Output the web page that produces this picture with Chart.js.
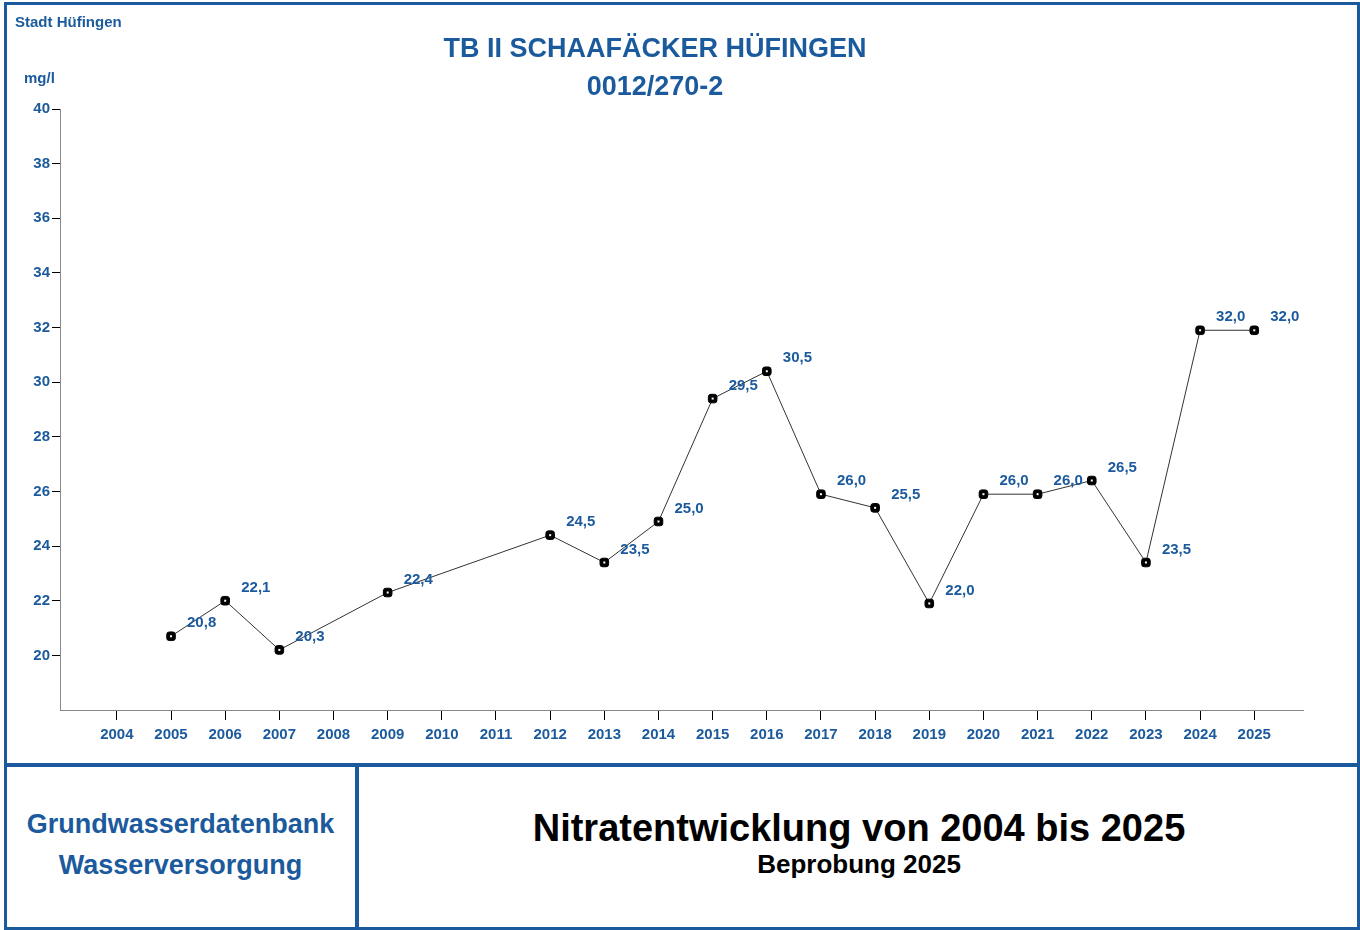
<!DOCTYPE html>
<html>
<head>
<meta charset="utf-8">
<script src="https://cdn.jsdelivr.net/npm/chart.js@4"></script>
<style>
  body { margin: 0; background: #fff; font-family: "Liberation Sans", Arial, sans-serif; }
  #page { position: relative; width: 1360px; height: 930px; }
  #frame { position: absolute; left: 4px; top: 2px; width: 1350px; height: 922px; border: 3px solid #1b5a9c; }
  #hline { position: absolute; left: 4px; top: 763px; width: 1356px; height: 4px; background: #1b5a9c; }
  #vline { position: absolute; left: 355px; top: 765px; width: 4px; height: 163px; background: #1b5a9c; }
  .blue { color: #1b5a9c; font-weight: bold; position: absolute; }
  #chartBox { position: absolute; left: 0; top: 0; width: 1360px; height: 765px; }
</style>
</head>
<body>
<div id="page">
  <div id="frame"></div>
  <div id="hline"></div>
  <div id="vline"></div>
  <div id="chartBox"><canvas id="nitrat"></canvas></div>
  <div class="blue" style="left:15px;top:13px;font-size:15px;">Stadt Hüfingen</div>
  <div class="blue" style="left:24px;top:69px;font-size:15px;">mg/l</div>
  <div class="blue" style="left:355px;width:600px;top:29px;font-size:27px;text-align:center;line-height:38px;">TB II SCHAAFÄCKER HÜFINGEN<br>0012/270-2</div>
  <div class="blue" style="left:4px;width:353px;top:804px;font-size:27px;text-align:center;line-height:41px;">Grundwasserdatenbank<br>Wasserversorgung</div>
  <div style="position:absolute;left:359px;width:1000px;top:806px;text-align:center;font-weight:bold;color:#000;">
    <div style="font-size:38px;line-height:44px;">Nitratentwicklung von 2004 bis 2025</div>
    <div style="font-size:26px;line-height:28px;">Beprobung 2025</div>
  </div>
</div>
<script>
// Messjahre und Nitratwerte (mg/l)
const years = [2005, 2006, 2007, 2009, 2012, 2013, 2014, 2015, 2016, 2017, 2018, 2019, 2020, 2021, 2022, 2023, 2024, 2025];
const values = [20.7, 22.0, 20.2, 22.3, 24.4, 23.4, 24.9, 29.4, 30.4, 25.9, 25.4, 21.9, 25.9, 25.9, 26.4, 23.4, 31.9, 31.9];
const labels = ['20,8', '22,1', '20,3', '22,4', '24,5', '23,5', '25,0', '29,5', '30,5', '26,0', '25,5', '22,0', '26,0', '26,0', '26,5', '23,5', '32,0', '32,0'];
const tickYears = [2004, 2005, 2006, 2007, 2008, 2009, 2010, 2011, 2012, 2013, 2014, 2015, 2016, 2017, 2018, 2019, 2020, 2021, 2022, 2023, 2024, 2025];

const blue = '#1b5a9c';

// Werte neben die Punkte schreiben
const valueLabels = {
  id: 'valueLabels',
  afterDatasetsDraw(chart) {
    const c = chart.ctx;
    const meta = chart.getDatasetMeta(0);
    c.save();
    c.font = 'bold 15px "Liberation Sans", Arial';
    c.fillStyle = blue;
    c.textAlign = 'left';
    c.textBaseline = 'middle';
    meta.data.forEach((pt, i) => {
      c.fillText(labels[i], pt.x + 16, pt.y - 13);
    });
    c.restore();
  }
};

// Punkte: schwarzes Quadrat mit weißem Punkt
const whiteDot = {
  id: 'whiteDot',
  afterDatasetsDraw(chart) {
    const c = chart.ctx;
    c.save();
    c.fillStyle = '#fff';
    chart.getDatasetMeta(0).data.forEach(pt => {
      c.fillRect(pt.x - 1, pt.y - 1, 2, 2);
    });
    c.restore();
  }
};

new Chart(document.getElementById('nitrat'), {
  type: 'line',
  data: {
    datasets: [{
      data: years.map((y, i) => ({ x: y, y: values[i] })),
      borderColor: '#333',
      borderWidth: 1,
      pointStyle: 'rectRounded',
      pointRadius: 5,
      pointBackgroundColor: '#000',
      pointBorderColor: '#000',
      tension: 0
    }]
  },
  options: {
    responsive: true,
    maintainAspectRatio: false,
    animation: false,
    layout: { padding: { top: 109, right: 57, left: 0, bottom: 0 } },
    plugins: { legend: { display: false }, tooltip: { enabled: false } },
    scales: {
      x: {
        type: 'linear',
        min: 2002.95,
        max: 2025.9,
        afterBuildTicks: s => { s.ticks = tickYears.map(v => ({ value: v })); },
        afterFit: s => { s.height = 55; },
        border: { color: '#888', width: 1 },
        grid: { drawOnChartArea: false, tickLength: 10, color: '#000' },
        ticks: { color: blue, font: { weight: 'bold', size: 15, family: '"Liberation Sans", Arial' }, padding: 6, callback: v => String(v) }
      },
      y: {
        min: 18,
        max: 40,
        afterFit: s => { s.width = 60; },
        border: { color: '#888', width: 1 },
        grid: { drawOnChartArea: false, tickLength: 8, color: ctx => ctx.tick && ctx.tick.value === 18 ? 'rgba(0,0,0,0)' : '#000' },
        ticks: { stepSize: 2, color: blue, padding: 2, font: { weight: 'bold', size: 15, family: '"Liberation Sans", Arial' }, callback: v => v === 18 ? '' : String(v) }
      }
    }
  },
  plugins: [valueLabels, whiteDot]
});
</script>
</body>
</html>
